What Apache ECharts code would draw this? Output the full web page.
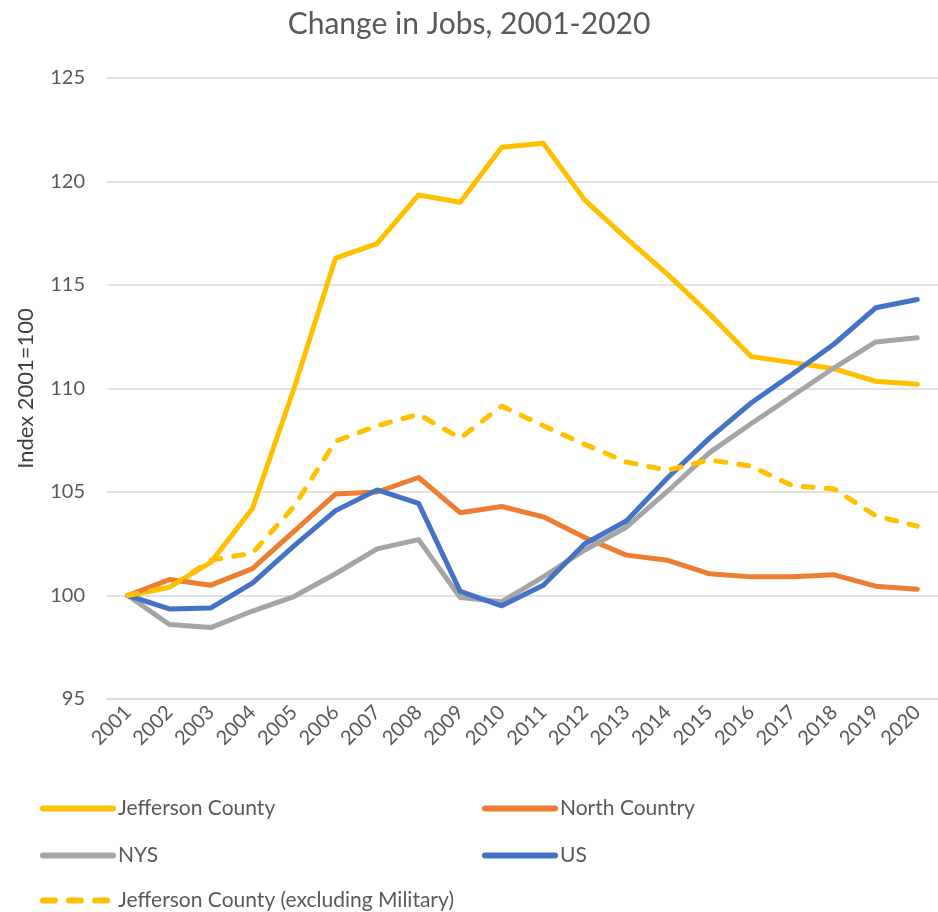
<!DOCTYPE html>
<html>
<head>
<meta charset="utf-8">
<title>Change in Jobs, 2001-2020</title>
<script src="https://cdn.jsdelivr.net/npm/echarts@6/dist/echarts.min.js"></script>
<style>
  html, body { margin: 0; padding: 0; background: #fff; }
  #chart { width: 938px; height: 912px; }
</style>
</head>
<body>
<div id="chart"></div>
<script>
const years = ['2001', '2002', '2003', '2004', '2005', '2006', '2007', '2008', '2009', '2010',
  '2011', '2012', '2013', '2014', '2015', '2016', '2017', '2018', '2019', '2020']

const jefferson = [100, 100.4, 101.6, 104.2, 110.0, 116.3, 117.0, 119.35, 119.0, 121.65,
  121.85, 119.1, 117.25, 115.5, 113.6, 111.55, 111.25, 110.95, 110.35, 110.2]
const northCountry = [100, 100.77, 100.5, 101.3, 103.1, 104.9, 105.0, 105.7, 104.0, 104.3,
  103.8, 102.8, 101.95, 101.7, 101.05, 100.9, 100.9, 101.0, 100.45, 100.3]
const nys = [100, 98.6, 98.45, 99.25, 99.95, 101.05, 102.25, 102.7, 99.9, 99.7,
  100.9, 102.2, 103.3, 105.05, 106.9, 108.3, 109.65, 111.0, 112.25, 112.45]
const us = [100, 99.35, 99.4, 100.6, 102.4, 104.1, 105.1, 104.45, 100.2, 99.5,
  100.5, 102.5, 103.6, 105.7, 107.6, 109.3, 110.7, 112.15, 113.9, 114.3]
const jeffersonExMil = [100, 100.4, 101.7, 102.05, 104.3, 107.45, 108.2, 108.75, 107.6, 109.15,
  108.2, 107.3, 106.45, 106.05, 106.55, 106.25, 105.3, 105.15, 103.85, 103.35]

const yTicks = { min: 95, max: 125, interval: 5 }

const FONT = 'Lato'
const names = ['Jefferson County', 'North Country', 'NYS', 'US', 'Jefferson County (excluding Military)']

const chart = echarts.init(document.getElementById('chart'))

const mkLine = (name, data, color, type) => ({
  name,
  type: 'line',
  data,
  symbol: 'none',
  lineStyle: { color, width: 5, type: type || 'solid', cap: 'round', join: 'round' },
  itemStyle: { color },
  z: 3
})

// 一个图例项一个组件，方便摆位置
const legendPos = [
  { left: 40, top: 798 },
  { left: 482, top: 798 },
  { left: 40, top: 845 },
  { left: 482, top: 845 },
  { left: 40, top: 890 }
]

const option = {
  animation: false,
  title: {
    text: 'Change in Jobs, 2001-2020',
    left: 'center',
    top: 4,
    textStyle: { fontFamily: FONT, fontSize: 30, fontWeight: 'normal', color: '#595959' }
  },
  legend: legendPos.map((p, i) => Object.assign({
    data: [names[i]],
    itemWidth: 70,
    itemHeight: 14,
    itemGap: 0,
    padding: 0,
    itemStyle: { opacity: 0 },
    lineStyle: { width: 6, cap: 'round', type: i === 4 ? [12, 14] : 'solid' },
    textStyle: { fontFamily: FONT, fontSize: 21, color: '#595959', padding: [0, 0, 0, 0] }
  }, p)),
  grid: {
    left: 107,
    top: 78,
    width: 836,
    height: 621
  },
  xAxis: {
    type: 'category',
    data: years,
    boundaryGap: true,
    axisLine: { show: true, lineStyle: { color: '#d9d9d9', width: 1.5 } },
    axisTick: { show: false },
    axisLabel: {
      rotate: 45,
      interval: 0,
      margin: 10,
      fontFamily: FONT,
      fontSize: 20,
      color: '#595959'
    }
  },
  yAxis: {
    type: 'value',
    min: yTicks.min,
    max: yTicks.max,
    interval: yTicks.interval,
    name: 'Index 2001=100',
    nameLocation: 'middle',
    nameGap: 70,
    nameTextStyle: { fontFamily: FONT, fontSize: 22, color: '#404040' },
    axisLine: { show: false },
    axisTick: { show: false },
    axisLabel: { margin: 22, fontFamily: FONT, fontSize: 20, color: '#595959' },
    splitLine: { lineStyle: { color: '#d9d9d9', width: 1.5 } }
  },
  series: [
    mkLine(names[0], jefferson, '#FFC000'),
    mkLine(names[1], northCountry, '#ED7D31'),
    mkLine(names[2], nys, '#A5A5A5'),
    mkLine(names[3], us, '#4472C4'),
    mkLine(names[4], jeffersonExMil, '#FFC000', [10, 13])
  ]
}

chart.setOption(option)
</script>
</body>
</html>
